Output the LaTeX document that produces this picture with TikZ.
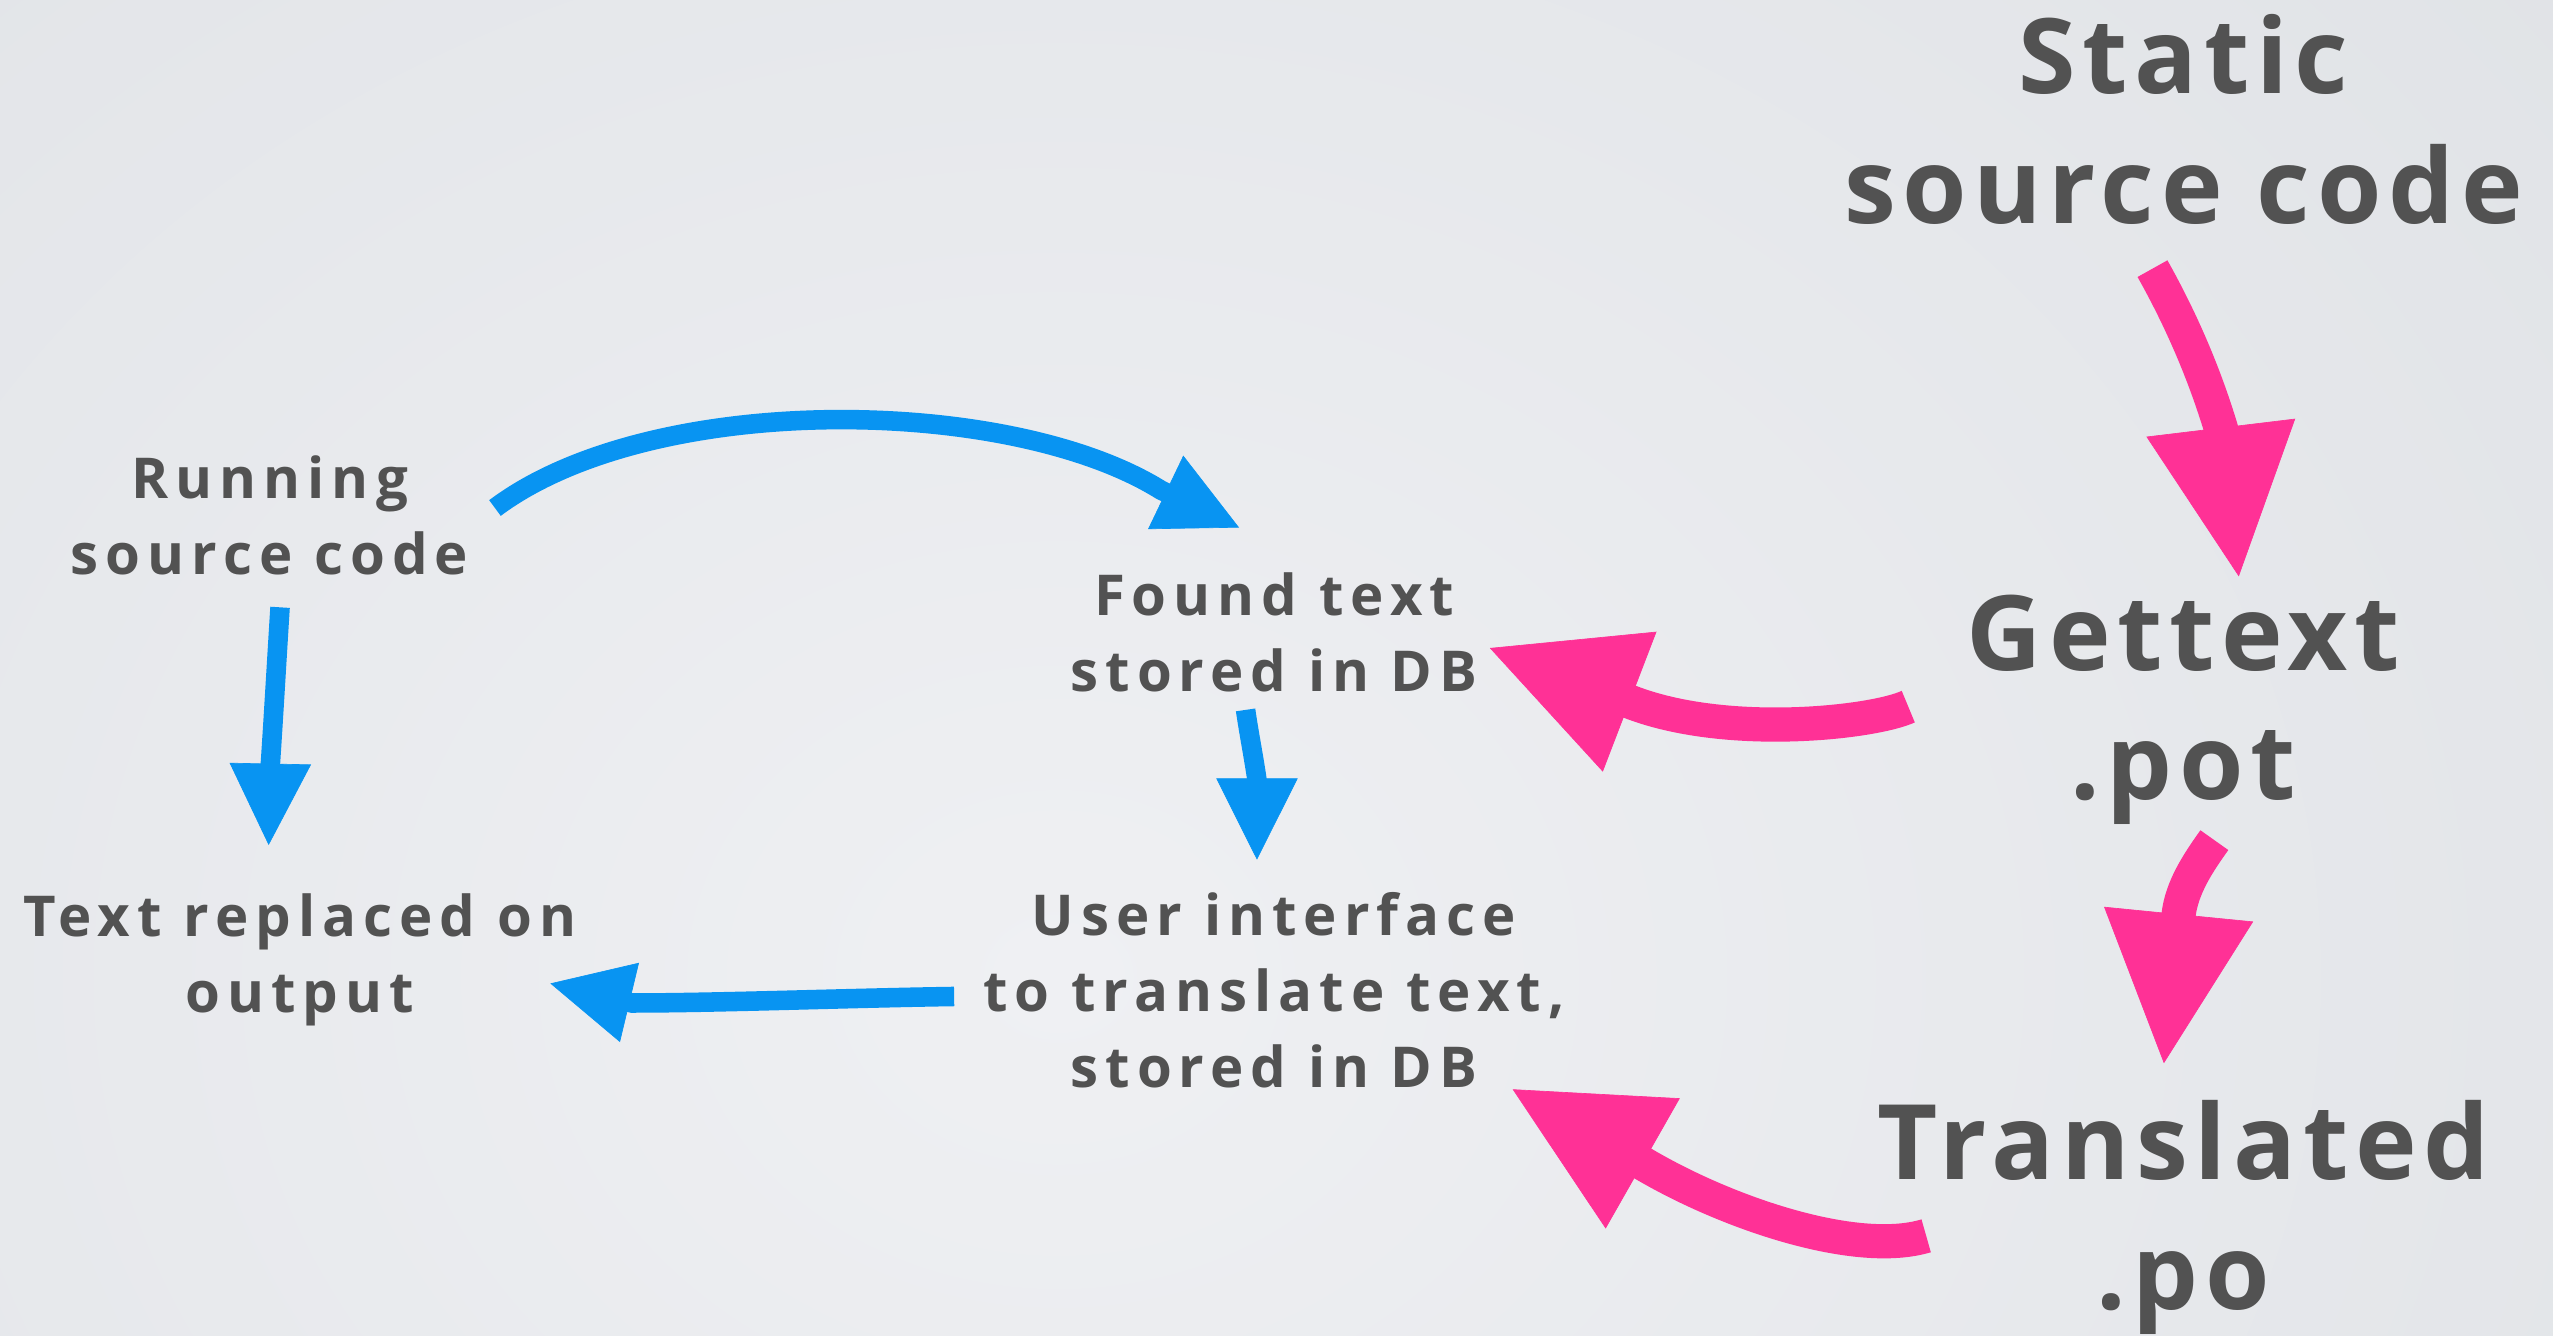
\documentclass[tikz,border=0pt]{standalone}
\usepackage{fontspec}
\setmainfont{Open Sans}
\newfontfamily\bigface{Open Sans}[LetterSpace=6.5]
\newfontfamily\smallface{Open Sans}[LetterSpace=12.5]
\usetikzlibrary{arrows.meta,calc}
\definecolor{txt}{HTML}{525252}
\definecolor{blu}{HTML}{0894F2}
\definecolor{pnk}{HTML}{FF3196}
\definecolor{bgin}{HTML}{EFF0F3}
\definecolor{bgout}{HTML}{DCDFE3}
\begin{document}
\begin{tikzpicture}[x=1pt,y=-1pt,
  big/.style={text=txt, align=center, anchor=base, inner sep=0pt,
    font=\bigface\bfseries\fontsize{64}{79.5}\selectfont},
  small/.style={text=txt, align=center, anchor=base, inner sep=0pt,
    font=\smallface\bfseries\fontsize{34.6}{46.8}\selectfont},
  blueline/.style={draw=blu, line width=12pt},
  bluehead/.style={draw=blu, line width=0.4pt,
    -{Triangle[length=50pt,width=50pt]}},
  pinkline/.style={draw=pnk, line width=21pt},
  pinkhead/.style={draw=pnk, line width=0.4pt,
    -{Triangle[length=92pt,width=92pt]}},
]
\useasboundingbox (0,0) rectangle (1568,820);
\begin{scope}
\clip (0,0) rectangle (1568,820);
\fill[bgout] (0,0) rectangle (1568,820);
\shade[inner color=bgin, outer color=bgout] (-900,-700) rectangle (2200,1900);
\end{scope}

% text blocks (anchor = baseline of last line)
\node[big] (static) at (1341,137) {Static\\source code};
\node[big] (gettext) at (1341,491) {Gettext\\.pot};
\node[big] (po) at (1341,804) {Translated\\.po};
\node[small] (running) at (165.6,353) {Running\\source code};
\node[small] (found) at (782.5,425) {Found text\\stored in DB};
\node[small] (replaced) at (184,622) {Text replaced on\\output};
\node[small] (ui) at (782.5,668) {User interface\\to translate text,\\stored in DB};

% arrow points: start, end of shaft, tip
\coordinate (b1s) at (304,312);  \coordinate (b1e) at (713,301);  \coordinate (b1t) at (761,324);
\coordinate (b2s) at (172,373);  \coordinate (b2e) at (166,470);  \coordinate (b2t) at (165,519);
\coordinate (b3s) at (765,436);  \coordinate (b3e) at (772,479);  \coordinate (b3t) at (772,528);
\coordinate (b4s) at (586,612);  \coordinate (b4e) at (388,616);  \coordinate (b4t) at (338,604);
\coordinate (p1s) at (1322,165); \coordinate (p1e) at (1364,263); \coordinate (p1t) at (1375,354);
\coordinate (p2s) at (1172,434); \coordinate (p2e) at (1001,431); \coordinate (p2t) at (915,398);
\coordinate (p3s) at (1360,516); \coordinate (p3e) at (1338,562); \coordinate (p3t) at (1329,653);
\coordinate (p4s) at (1183,759); \coordinate (p4e) at (1008,714); \coordinate (p4t) at (929,669);

% blue arrows: Running -> Found, Running -> Replaced, Found -> UI, UI -> Replaced
\draw[blueline] (b1s) .. controls (400,240) and (620,243) .. (b1e) -- ($(b1e)!12pt!(b1t)$);
\draw[bluehead] (b1e) -- (b1t);
\draw[blueline] (b2s) .. controls (170,405) and (168,440) .. (b2e) -- ($(b2e)!12pt!(b2t)$);
\draw[bluehead] (b2e) -- (b2t);
\draw[blueline] (b3s) .. controls (767,450) and (770,465) .. (b3e) -- ($(b3e)!12pt!(b3t)$);
\draw[bluehead] (b3e) -- (b3t);
\draw[blueline] (b4s) .. controls (520,613) and (440,616) .. (b4e) -- ($(b4e)!12pt!(b4t)$);
\draw[bluehead] (b4e) -- (b4t);

% pink arrows: Static -> Gettext, Gettext -> Found, Gettext -> Translated, Translated -> UI
\draw[pinkline] (p1s) .. controls (1340,197) and (1354,230) .. (p1e) -- ($(p1e)!20pt!(p1t)$);
\draw[pinkhead] (p1e) -- (p1t);
\draw[pinkline] (p2s) .. controls (1150,444) and (1060,454) .. (p2e) -- ($(p2e)!20pt!(p2t)$);
\draw[pinkhead] (p2e) -- (p2t);
\draw[pinkline] (p3s) .. controls (1350,530) and (1340,545) .. (p3e) -- ($(p3e)!20pt!(p3t)$);
\draw[pinkhead] (p3e) -- (p3t);
\draw[pinkline] (p4s) .. controls (1140,772) and (1060,745) .. (p4e) -- ($(p4e)!20pt!(p4t)$);
\draw[pinkhead] (p4e) -- (p4t);
\end{tikzpicture}
\end{document}
